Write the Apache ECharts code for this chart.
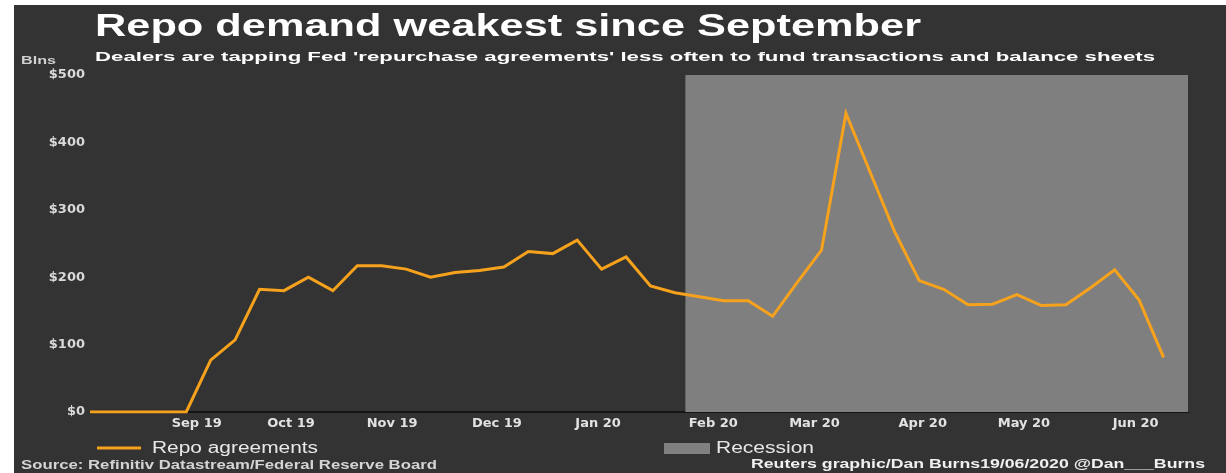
<!DOCTYPE html>
<html>
<head>
<meta charset="utf-8">
<script src="https://cdn.jsdelivr.net/npm/echarts@6/dist/echarts.min.js"></script>
<style>
  html, body { margin: 0; padding: 0; background: #ffffff; }
  #panel { position: absolute; left: 14px; top: 5px; right: 0; bottom: 0; background: #333333; }
  #chart { position: absolute; left: 0; top: 0; width: 1226px; height: 473px; }
</style>
</head>
<body>
<div id="panel"></div>
<div id="chart"></div>
<script>
// Weekly Fed repo operations outstanding, $ billions
const weekDates = [
  '2019-08-14', '2019-08-21', '2019-08-28', '2019-09-04', '2019-09-11',
  '2019-09-18', '2019-09-25', '2019-10-02', '2019-10-09', '2019-10-16',
  '2019-10-23', '2019-10-30', '2019-11-06', '2019-11-13', '2019-11-20',
  '2019-11-27', '2019-12-04', '2019-12-11', '2019-12-18', '2019-12-25',
  '2020-01-01', '2020-01-08', '2020-01-15', '2020-01-22', '2020-01-29',
  '2020-02-05', '2020-02-12', '2020-02-19', '2020-02-26', '2020-03-04',
  '2020-03-11', '2020-03-18', '2020-03-25', '2020-04-01', '2020-04-08',
  '2020-04-15', '2020-04-22', '2020-04-29', '2020-05-06', '2020-05-13',
  '2020-05-20', '2020-05-27', '2020-06-03', '2020-06-10', '2020-06-17'
];
const repoValues = [
  0, 0, 0, 0, 0,
  77, 107, 182, 180, 200,
  180, 217, 217, 212, 200,
  207, 210, 215, 238, 235,
  255, 212, 230, 187, 177,
  171, 165, 165, 142, 192,
  240, 443, 355, 267, 195,
  182, 159, 160, 174, 158,
  159, 184, 211, 166, 81
];

// Month labels along the date axis
const tickDates = [
  '2019-09-14', '2019-10-11', '2019-11-09', '2019-12-09', '2020-01-07',
  '2020-02-09', '2020-03-09', '2020-04-09', '2020-05-08', '2020-06-09'
];
const tickLabels = [
  'Sep 19', 'Oct 19', 'Nov 19', 'Dec 19', 'Jan 20',
  'Feb 20', 'Mar 20', 'Apr 20', 'May 20', 'Jun 20'
];

// Value axis ticks
const yTicks = [0, 100, 200, 300, 400, 500];

// Date range of the axis and of the recession band
const axisStart = '2019-08-15';
const axisEnd = '2020-06-24';
const recessionStart = '2020-02-01';

function toTime(s) {
  const p = s.split('-').map(Number);
  return new Date(p[0], p[1] - 1, p[2]).getTime();
}

const tickTimes = tickDates.map(toTime);
const lineData = weekDates.map((d, i) => [toTime(d), repoValues[i]]);

// Text helpers: the lettering is set wide, so each line is stretched to its span
const measureCtx = document.createElement('canvas').getContext('2d');
function textWidth(text, font) {
  measureCtx.font = font;
  return measureCtx.measureText(text).width;
}
function wideText(text, x, y, font, fill, span) {
  return {
    type: 'text', x: x, y: y, silent: true,
    scaleX: span / textWidth(text, font),
    style: { text: text, font: font, fill: fill, textAlign: 'left', textVerticalAlign: 'middle' }
  };
}

const chart = echarts.init(document.getElementById('chart'), null, { renderer: 'canvas' });

const option = {
  backgroundColor: 'transparent',
  animation: false,
  grid: { left: 92, right: 38, top: 75, bottom: 61, containLabel: false },
  xAxis: {
    type: 'value',
    min: toTime(axisStart),
    max: toTime(axisEnd),
    splitLine: { show: false },
    axisTick: { show: false },
    axisLine: { show: true, onZero: false, lineStyle: { color: '#141414', width: 2 } },
    axisLabel: {
      customValues: tickTimes,
      margin: 5,
      color: '#e2e2e2',
      fontFamily: 'DejaVu Sans',
      fontWeight: 'bold',
      fontSize: 13,
      formatter: function (val) {
        for (let i = 0; i < tickTimes.length; i++) {
          if (Math.abs(tickTimes[i] - val) < 3600000) return tickLabels[i];
        }
        return '';
      }
    }
  },
  yAxis: {
    type: 'value',
    min: yTicks[0],
    max: yTicks[yTicks.length - 1],
    interval: 100,
    splitLine: { show: false },
    axisLine: { show: false },
    axisTick: { show: false },
    axisLabel: {
      margin: 7,
      color: '#d9d9d9',
      fontFamily: 'DejaVu Sans',
      fontWeight: 'bold',
      fontSize: 13,
      formatter: function (v) { return '$' + v; }
    }
  },
  series: [
    {
      name: 'Recession',
      type: 'line',
      data: [],
      z: 1,
      markArea: {
        silent: true,
        itemStyle: { color: '#7f7f7f', opacity: 1 },
        data: [[{ xAxis: toTime(recessionStart) }, { xAxis: toTime(axisEnd) }]]
      }
    },
    {
      name: 'Repo agreements',
      type: 'line',
      data: lineData,
      z: 5,
      showSymbol: false,
      symbol: 'none',
      lineStyle: { color: '#f7a21c', width: 3, join: 'miter' },
      clip: true
    }
  ],
  graphic: [
    wideText('Repo demand weakest since September', 95, 27, 'bold 31px "Liberation Sans"', '#ffffff', 826),
    wideText('Blns', 21, 61, 'bold 10px "Liberation Sans"', '#d0d0d0', 35),
    wideText("Dealers are tapping Fed 'repurchase agreements' less often to fund transactions and balance sheets",
      95, 57, 'bold 13px "Liberation Sans"', '#ffffff', 1060),
    { type: 'line', silent: true, shape: { x1: 97, y1: 448, x2: 141, y2: 448 },
      style: { stroke: '#f7a21c', lineWidth: 3 } },
    wideText('Repo agreements', 152, 449, '16px "Liberation Sans"', '#e8e8e8', 166),
    { type: 'rect', silent: true, shape: { x: 664, y: 443, width: 46, height: 11 },
      style: { fill: '#808080' } },
    wideText('Recession', 716, 449, '16px "Liberation Sans"', '#e8e8e8', 98),
    wideText('Source: Refinitiv Datastream/Federal Reserve Board', 21, 466, 'bold 12px "Liberation Sans"', '#d4d4d4', 416),
    wideText('Reuters graphic/Dan Burns19/06/2020 @Dan___Burns', 751, 465, 'bold 12px "Liberation Sans"', '#f0f0f0', 454)
  ]
};

chart.setOption(option);
</script>
</body>
</html>
